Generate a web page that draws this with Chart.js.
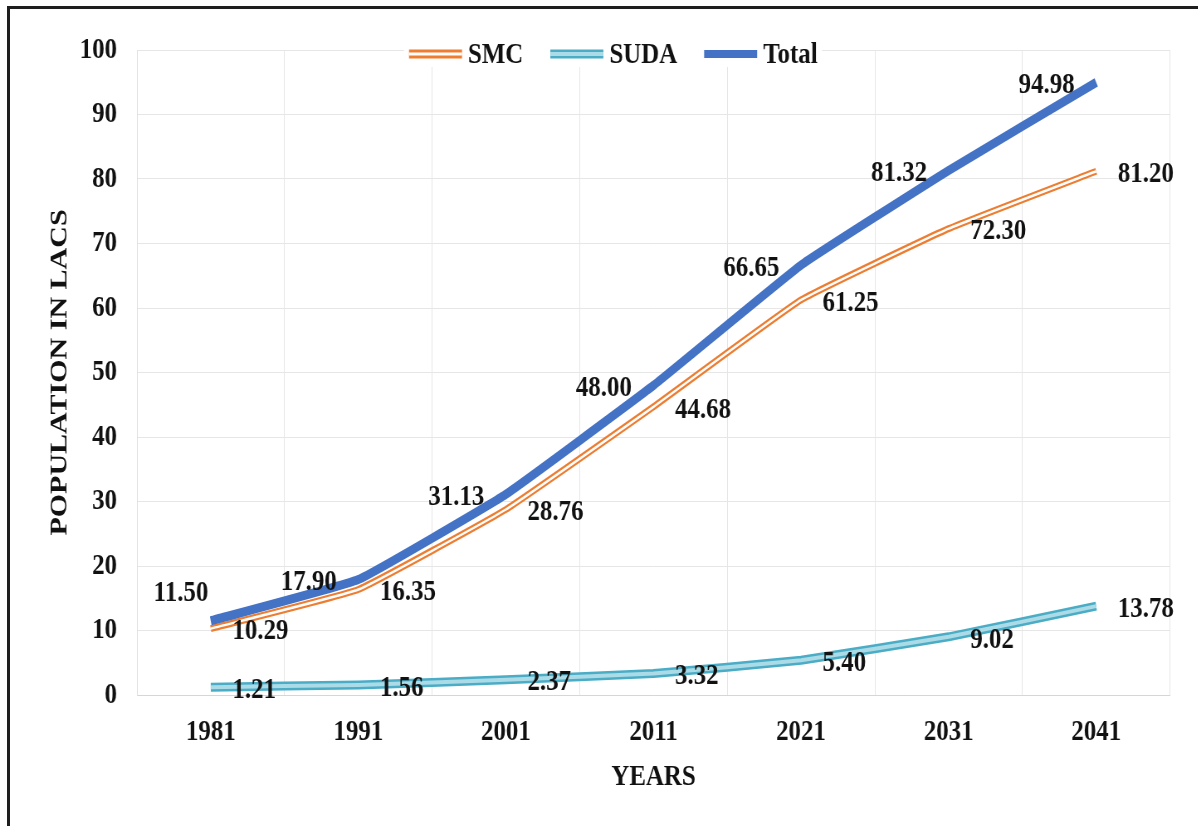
<!DOCTYPE html>
<html>
<head>
<meta charset="utf-8">
<script src="https://cdn.jsdelivr.net/npm/chart.js@4.4.1/dist/chart.umd.min.js"></script>
<style>
  html, body { margin: 0; padding: 0; background: #fff; overflow: hidden; }
  #wrap { position: absolute; left: 0; top: 0; width: 1198px; height: 826px; overflow: hidden; background: #fff; }
  #myChart { position: absolute; left: 0; top: 0; transform-origin: 0 0; }
  .frame { position: absolute; left: 7px; top: 6px; width: 1300px; height: 900px;
           border-top: 3px solid #1e1e1e; border-left: 3px solid #1e1e1e; pointer-events: none; }
</style>
</head>
<body>
<div id="wrap">
  <canvas id="myChart"></canvas>
  <div class="frame"></div>
</div>
<script>
const years = ['1981', '1991', '2001', '2011', '2021', '2031', '2041'];
const smc = [10.29, 16.35, 28.76, 44.68, 61.25, 72.30, 81.20];
const suda = [1.21, 1.56, 2.37, 3.32, 5.40, 9.02, 13.78];
const total = [11.50, 17.90, 31.13, 48.00, 66.65, 81.32, 94.98];

// the original picture is squeezed sideways, so draw wider and scale back in x
const squeeze = 0.83;
const canvasW = Math.round(1198 / squeeze);
const canvasH = 826;

const serif = "'Liberation Serif', 'Times New Roman', serif";
const font = { family: serif, size: 30, weight: 'bold' };
const ink = '#111';

const series = [
  { label: 'SMC', data: smc, color: '#ed7d31', width: 7, core: '#ffffff', coreWidth: 2.5, side: 'right', order: 2 },
  { label: 'SUDA', data: suda, color: '#4bacc6', width: 9, core: '#aadbe7', coreWidth: 4, side: 'right', order: 4 },
  { label: 'Total', data: total, color: '#4472c4', width: 9, side: 'left', order: 0 }
];

const datasets = [];
series.forEach(s => {
  datasets.push({
    label: s.label, data: s.data, borderColor: s.color, borderWidth: s.width,
    side: s.side, order: s.order
  });
  if (s.core) {
    datasets.push({
      label: s.label + ' core', data: s.data, borderColor: s.core, borderWidth: s.coreWidth,
      order: s.order - 1
    });
  }
});
datasets.forEach(d => {
  d.pointRadius = 0;
  d.pointHoverRadius = 0;
  d.fill = false;
  d.tension = 0.1;
  d.borderCapStyle = 'butt';
  d.borderJoinStyle = 'round';
});

const valueLabels = {
  id: 'valueLabels',
  afterDatasetsDraw(chart) {
    const c = chart.ctx;
    c.save();
    c.font = `bold ${font.size}px ${serif}`;
    c.fillStyle = ink;
    c.textBaseline = 'middle';
    chart.data.datasets.forEach((ds, i) => {
      if (!ds.side) return;
      const meta = chart.getDatasetMeta(i);
      meta.data.forEach((pt, j) => {
        let dx = ds.side === 'right' ? 26 : -26;
        let dy = 3;
        if (ds.side === 'left' && j === 0) { dx = -3; dy = -28; }
        c.textAlign = ds.side === 'right' ? 'left' : 'right';
        c.fillText(ds.data[j].toFixed(2), pt.x + dx, pt.y + dy);
      });
    });
    c.restore();
  }
};

const legendBox = {
  id: 'legendBox',
  afterDraw(chart) {
    const c = chart.ctx;
    c.save();
    c.fillStyle = '#fff';
    c.fillRect(404 / squeeze, 38, 418 / squeeze, 29);
    c.font = `bold ${font.size}px ${serif}`;
    c.textBaseline = 'middle';
    c.textAlign = 'left';
    const y = 55;
    const swatch = 53 / squeeze, gap = 6 / squeeze, space = 27 / squeeze;
    let x = 409 / squeeze;
    series.forEach(s => {
      c.lineCap = 'butt';
      c.strokeStyle = s.color;
      c.lineWidth = s.core ? 9 : 8;
      c.beginPath(); c.moveTo(x, y - 1); c.lineTo(x + swatch, y - 1); c.stroke();
      if (s.core) {
        c.strokeStyle = s.core;
        c.lineWidth = s.label === 'SMC' ? 3 : 4;
        c.beginPath(); c.moveTo(x, y - 1); c.lineTo(x + swatch, y - 1); c.stroke();
      }
      x += swatch + gap;
      c.fillStyle = ink;
      c.fillText(s.label, x, y);
      x += c.measureText(s.label).width + space;
    });
    c.restore();
  }
};

const canvas = document.getElementById('myChart');
canvas.width = canvasW;
canvas.height = canvasH;
canvas.style.width = canvasW + 'px';
canvas.style.height = canvasH + 'px';
canvas.style.transform = `scaleX(${squeeze})`;

const chart = new Chart(canvas, {
  type: 'line',
  data: { labels: years, datasets: datasets },
  options: {
    responsive: false,
    animation: false,
    devicePixelRatio: 1,
    layout: { padding: { top: 50, right: canvasW - 1170 / squeeze, bottom: 0, left: 0 } },
    plugins: { legend: { display: false }, tooltip: { enabled: false } },
    scales: {
      x: {
        offset: true,
        grid: { offset: true, color: '#e6e6e6', drawTicks: false },
        border: { color: '#d6d6d6' },
        ticks: { padding: 19, color: ink, font: font },
        title: { display: true, text: 'YEARS', color: ink, font: font, padding: { top: 0, bottom: 31 } },
        afterFit(scale) { scale.height = 131; }
      },
      y: {
        min: 0,
        max: 100,
        grid: { color: '#e6e6e6', drawTicks: false },
        border: { color: '#e0e0e0' },
        ticks: { stepSize: 10, padding: 24, color: ink, font: font },
        title: { display: true, text: 'POPULATION IN LACS', color: ink, font: font, padding: { top: 54, bottom: 0 } },
        afterFit(scale) { scale.width = 165; }
      }
    }
  },
  plugins: [valueLabels, legendBox]
});
</script>
</body>
</html>
